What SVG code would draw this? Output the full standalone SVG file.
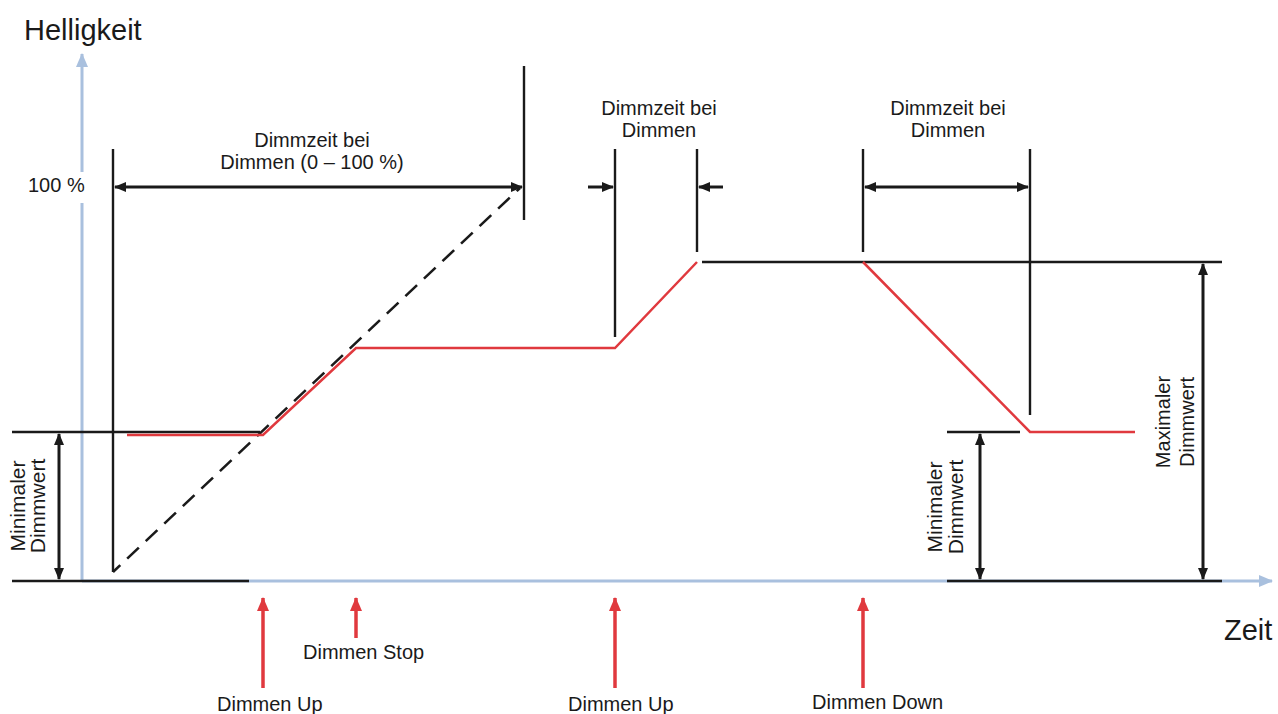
<svg xmlns="http://www.w3.org/2000/svg" width="1278" height="714" viewBox="0 0 1278 714">
<defs>
<style>
text{font-family:"Liberation Sans",Arial,sans-serif;fill:#1a1a1a;font-size:20px}
.big{font-size:29px}
.mid{text-anchor:middle}
.rot{font-size:21px}
.blk{stroke:#1a1a1a;stroke-width:2.4;fill:none}
.dim{stroke:#1a1a1a;stroke-width:3;fill:none}
.axis{stroke:#a9c0de;stroke-width:3;fill:none}
.red{stroke:#e0393e;stroke-width:2.5;fill:none}
.trig{stroke:#e0393e;stroke-width:3.5;fill:none}
.dash{stroke:#1a1a1a;stroke-width:2.6;fill:none;stroke-dasharray:16 9.5;stroke-dashoffset:6}
</style>
<marker id="ah" markerWidth="12" markerHeight="10" refX="11" refY="5" orient="auto-start-reverse" markerUnits="userSpaceOnUse">
<path d="M0,0 L12,5 L0,10 Z" fill="#1a1a1a"/>
</marker>
<marker id="rh" markerWidth="14" markerHeight="12" refX="13" refY="6" orient="auto" markerUnits="userSpaceOnUse">
<path d="M0,0 L14,6 L0,12 Z" fill="#e0393e"/>
</marker>
<marker id="bh" markerWidth="14" markerHeight="12" refX="13" refY="6" orient="auto" markerUnits="userSpaceOnUse">
<path d="M0,0 L14,6 L0,12 Z" fill="#a9c0de"/>
</marker>
</defs>
<rect width="1278" height="714" fill="#ffffff"/>

<g id="axes">
<line class="axis" x1="82" y1="581" x2="82" y2="54" marker-end="url(#bh)"/>
<line class="axis" x1="82" y1="581" x2="1272" y2="581" marker-end="url(#bh)"/>
<line class="blk" x1="12" y1="581" x2="249" y2="581"/>
<line class="blk" x1="947" y1="581" x2="1222" y2="581"/>
<text class="big" x="24" y="40">Helligkeit</text>
<text class="big" x="1224" y="640">Zeit</text>
</g>

<g id="label-100">
<rect x="24" y="172" width="64" height="31" fill="#ffffff"/>
<text x="28" y="192">100 %</text>
</g>

<g id="reference-lines">
<line class="blk" x1="12" y1="432" x2="260" y2="432"/>
<line class="blk" x1="113" y1="149" x2="113" y2="572"/>
<line class="blk" x1="524" y1="66" x2="524" y2="220"/>
<line class="blk" x1="615" y1="149" x2="615" y2="337"/>
<line class="blk" x1="697" y1="149" x2="697" y2="252"/>
<line class="blk" x1="863" y1="149" x2="863" y2="252"/>
<line class="blk" x1="1030" y1="149" x2="1030" y2="415"/>
<line class="blk" x1="702" y1="262" x2="1222" y2="262"/>
<line class="blk" x1="947" y1="432" x2="1020" y2="432"/>
<line class="dash" x1="113" y1="572" x2="520" y2="188"/>
</g>

<g id="curve">
<polyline class="red" points="127,435 263,435 356,348 615,348 697,262"/>
<polyline class="red" points="863,262 1030,432 1135,432"/>
</g>

<g id="connectors">
<line class="dim" x1="115" y1="187" x2="522" y2="187" marker-start="url(#ah)" marker-end="url(#ah)"/>
<line class="dim" x1="588" y1="187" x2="613" y2="187" marker-end="url(#ah)"/>
<line class="dim" x1="723" y1="187" x2="699" y2="187" marker-end="url(#ah)"/>
<line class="dim" x1="865" y1="187" x2="1028" y2="187" marker-start="url(#ah)" marker-end="url(#ah)"/>
<line class="dim" x1="59" y1="434" x2="59" y2="579" marker-start="url(#ah)" marker-end="url(#ah)"/>
<line class="dim" x1="980" y1="434" x2="980" y2="579" marker-start="url(#ah)" marker-end="url(#ah)"/>
<line class="dim" x1="1203" y1="264" x2="1203" y2="579" marker-start="url(#ah)" marker-end="url(#ah)"/>
<line class="trig" x1="263" y1="688" x2="263" y2="598" marker-end="url(#rh)"/>
<line class="trig" x1="356" y1="638" x2="356" y2="598" marker-end="url(#rh)"/>
<line class="trig" x1="615" y1="688" x2="615" y2="598" marker-end="url(#rh)"/>
<line class="trig" x1="863" y1="688" x2="863" y2="598" marker-end="url(#rh)"/>
</g>

<g id="label-dimmzeit-1">
<text class="mid" x="312" y="147">Dimmzeit bei</text>
<text class="mid" x="312" y="169">Dimmen (0 – 100 %)</text>
</g>
<g id="label-dimmzeit-2">
<text class="mid" x="659" y="115">Dimmzeit bei</text>
<text class="mid" x="659" y="137">Dimmen</text>
</g>
<g id="label-dimmzeit-3">
<text class="mid" x="948" y="115">Dimmzeit bei</text>
<text class="mid" x="948" y="137">Dimmen</text>
</g>
<g id="label-min-left">
<text class="mid rot" transform="translate(25,506) rotate(-90)">Minimaler</text>
<text class="mid rot" transform="translate(45,506) rotate(-90)">Dimmwert</text>
</g>
<g id="label-min-right">
<text class="mid rot" transform="translate(942,507) rotate(-90)">Minimaler</text>
<text class="mid rot" transform="translate(963,507) rotate(-90)">Dimmwert</text>
</g>
<g id="label-max">
<text class="mid" transform="translate(1170,422) rotate(-90)">Maximaler</text>
<text class="mid" transform="translate(1194,422) rotate(-90)">Dimmwert</text>
</g>
<g id="trigger-labels">
<text x="217" y="711">Dimmen Up</text>
<text x="303" y="659">Dimmen Stop</text>
<text x="568" y="711">Dimmen Up</text>
<text x="812" y="709">Dimmen Down</text>
</g>
</svg>
